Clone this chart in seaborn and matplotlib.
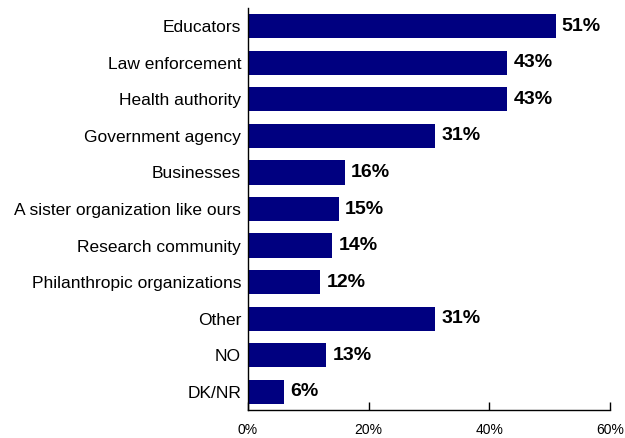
import matplotlib
matplotlib.use("Agg")
import matplotlib.pyplot as plt
import seaborn as sns
import pandas as pd

categories = [
    "Educators",
    "Law enforcement",
    "Health authority",
    "Government agency",
    "Businesses",
    "A sister organization like ours",
    "Research community",
    "Philanthropic organizations",
    "Other",
    "NO",
    "DK/NR",
]
values = [51, 43, 43, 31, 16, 15, 14, 12, 31, 13, 6]
x_ticks = [0, 20, 40, 60]
x_tick_labels = ["0%", "20%", "40%", "60%"]

df = pd.DataFrame({"category": categories, "value": values})

sns.set_theme(style="white")
plt.rcParams["font.family"] = ["Liberation Sans", "DejaVu Sans"]

fig = plt.figure(figsize=(6.25, 4.38), dpi=100)
ax = fig.add_axes([0.3968, 0.0639, 0.976 - 0.3968, 0.9817 - 0.0639])

sns.barplot(data=df, x="value", y="category", orient="h", color="#000080",
            saturation=1, width=0.66, linewidth=0, ax=ax)

for i, v in enumerate(values):
    ax.text(v + 1.0, i, f"{v}%", va="center", ha="left",
            fontsize=14, fontweight="bold", color="black")

ax.set_xlim(0, 60)
ax.set_ylim(10.5, -0.5)
ax.set_xticks(x_ticks)
ax.set_xticklabels(x_tick_labels, fontsize=10)
ax.set_xlabel("")
ax.set_ylabel("")
ax.tick_params(axis="y", labelsize=12.5, length=0, pad=5, colors="black")
ax.tick_params(axis="x", direction="in", length=6, width=1, pad=9,
               colors="black", bottom=True)
for side in ["top", "right"]:
    ax.spines[side].set_visible(False)
for side in ["left", "bottom"]:
    ax.spines[side].set_color("black")
    ax.spines[side].set_linewidth(1)

fig.savefig("out.png", dpi=100, facecolor="white")
